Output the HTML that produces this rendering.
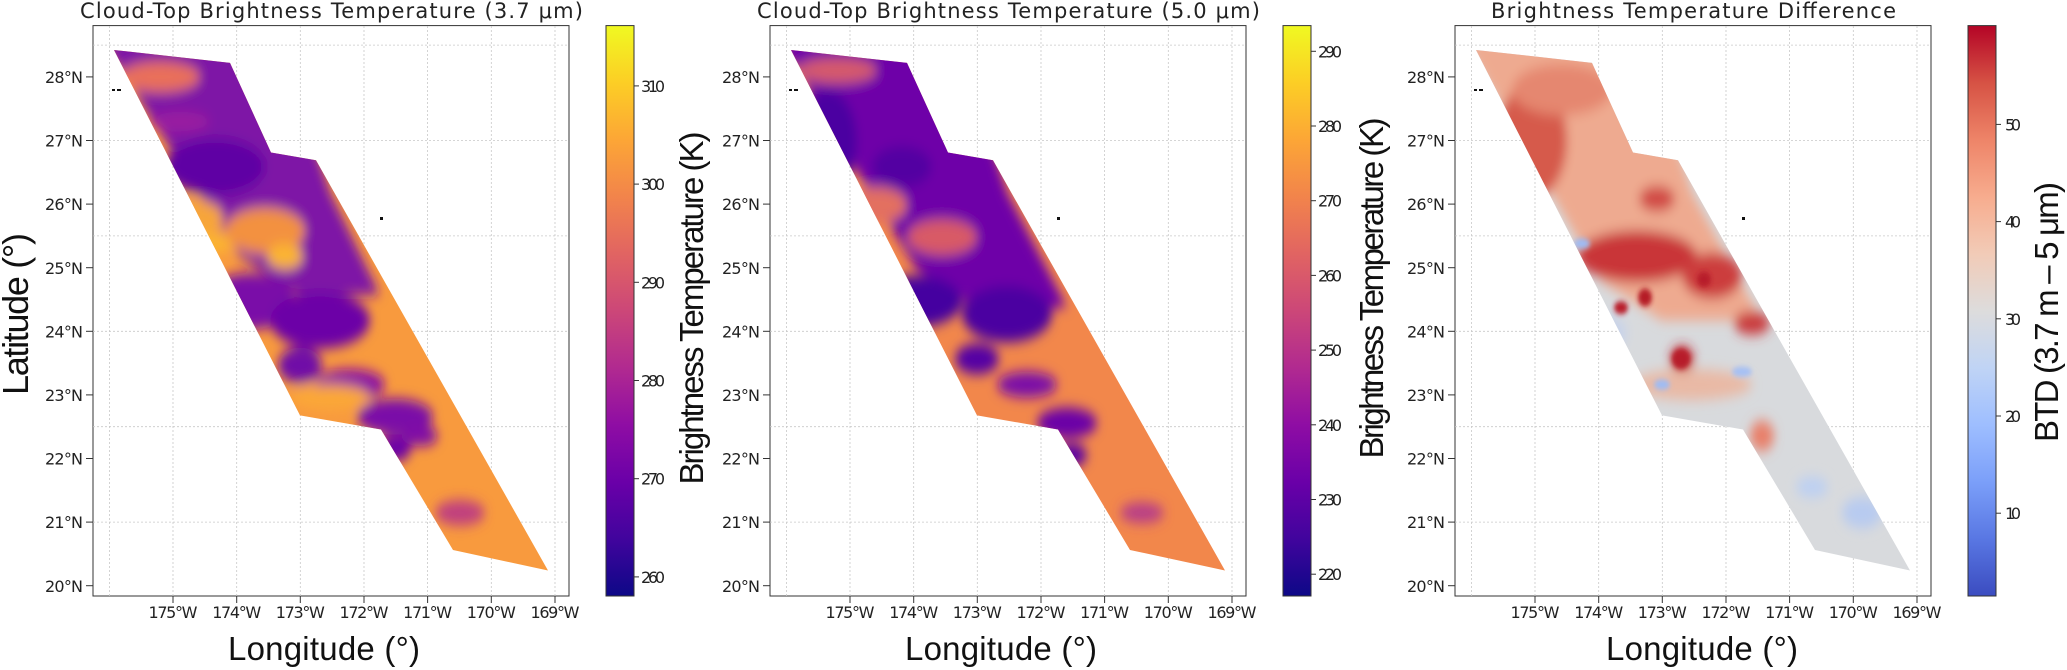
<!DOCTYPE html>
<html><head><meta charset="utf-8"><style>
html,body{margin:0;padding:0;background:#fff;}
svg{display:block;}
text{font-family:"DejaVu Sans","Liberation Sans",sans-serif;fill:#222;}
.t{font-size:16px;}
.ttl{font-size:21px;}
.ax{font-family:"Liberation Sans",sans-serif;font-size:33px;fill:#111;}
.g{stroke:#c8c8c8;stroke-width:0.8;stroke-dasharray:2,2;fill:none;}
</style></head><body>
<svg width="2067" height="670" viewBox="0 0 2067 670" xmlns="http://www.w3.org/2000/svg">
<defs>
<linearGradient id="plasma" x1="0" y1="1" x2="0" y2="0">
<stop offset="0" stop-color="#0d0887"/><stop offset=".1" stop-color="#41049d"/><stop offset=".2" stop-color="#6a00a8"/><stop offset=".3" stop-color="#8f0da4"/><stop offset=".4" stop-color="#b12a90"/><stop offset=".5" stop-color="#cc4778"/><stop offset=".6" stop-color="#e16462"/><stop offset=".7" stop-color="#f2844b"/><stop offset=".8" stop-color="#fca636"/><stop offset=".9" stop-color="#fcce25"/><stop offset="1" stop-color="#f0f921"/>
</linearGradient>
<linearGradient id="cw" x1="0" y1="1" x2="0" y2="0">
<stop offset="0" stop-color="#3b4cc0"/><stop offset=".1" stop-color="#5977e3"/><stop offset=".2" stop-color="#7b9ff9"/><stop offset=".3" stop-color="#9ebeff"/><stop offset=".4" stop-color="#c0d4f5"/><stop offset=".5" stop-color="#dddcdc"/><stop offset=".6" stop-color="#f2cbb7"/><stop offset=".7" stop-color="#f7ac8e"/><stop offset=".8" stop-color="#ee8468"/><stop offset=".9" stop-color="#d65244"/><stop offset="1" stop-color="#b40426"/>
</linearGradient>
<clipPath id="sw"><polygon points="114,39 230,49 271,119 316,125 548,445 453,429 381,335 300,324"/></clipPath>
<filter id="bl" x="-20%" y="-20%" width="140%" height="140%"><feGaussianBlur stdDeviation="5"/></filter>
<filter id="bs" x="-20%" y="-20%" width="140%" height="140%"><feGaussianBlur stdDeviation="2"/></filter>
<g id="frame">
<rect x="93" y="25.6" width="476" height="570.4" fill="none" stroke="#333" stroke-width="1"/>
<g class="g">
<line x1="109.4" y1="26" x2="109.4" y2="596"/><line x1="173" y1="26" x2="173" y2="596"/><line x1="236.7" y1="26" x2="236.7" y2="596"/><line x1="300.3" y1="26" x2="300.3" y2="596"/><line x1="364" y1="26" x2="364" y2="596"/><line x1="427.6" y1="26" x2="427.6" y2="596"/><line x1="491.3" y1="26" x2="491.3" y2="596"/><line x1="555" y1="26" x2="555" y2="596"/>
<line x1="93" y1="45.1" x2="569" y2="45.1"/><line x1="93" y1="140.5" x2="569" y2="140.5"/><line x1="93" y1="235.9" x2="569" y2="235.9"/><line x1="93" y1="331.3" x2="569" y2="331.3"/><line x1="93" y1="426.7" x2="569" y2="426.7"/><line x1="93" y1="522.1" x2="569" y2="522.1"/>
</g>
<g stroke="#333" stroke-width="1">
<line x1="86" y1="76.9" x2="93" y2="76.9"/><line x1="86" y1="140.5" x2="93" y2="140.5"/><line x1="86" y1="204.1" x2="93" y2="204.1"/><line x1="86" y1="267.7" x2="93" y2="267.7"/><line x1="86" y1="331.3" x2="93" y2="331.3"/><line x1="86" y1="394.9" x2="93" y2="394.9"/><line x1="86" y1="458.5" x2="93" y2="458.5"/><line x1="86" y1="522.1" x2="93" y2="522.1"/><line x1="86" y1="585.7" x2="93" y2="585.7"/>
<line x1="173" y1="596" x2="173" y2="603"/><line x1="236.7" y1="596" x2="236.7" y2="603"/><line x1="300.3" y1="596" x2="300.3" y2="603"/><line x1="364" y1="596" x2="364" y2="603"/><line x1="427.6" y1="596" x2="427.6" y2="603"/><line x1="491.3" y1="596" x2="491.3" y2="603"/><line x1="555" y1="596" x2="555" y2="603"/>
</g>
<g class="t" text-anchor="end">
<text x="83" y="83" textLength="38">28°N</text><text x="83" y="146.6" textLength="38">27°N</text><text x="83" y="210.2" textLength="38">26°N</text><text x="83" y="273.8" textLength="38">25°N</text><text x="83" y="337.4" textLength="38">24°N</text><text x="83" y="401" textLength="38">23°N</text><text x="83" y="464.6" textLength="38">22°N</text><text x="83" y="528.2" textLength="38">21°N</text><text x="83" y="591.8" textLength="38">20°N</text>
</g>
<g class="t" text-anchor="middle">
<text x="173" y="618" textLength="49">175°W</text><text x="236.7" y="618" textLength="49">174°W</text><text x="300.3" y="618" textLength="49">173°W</text><text x="364" y="618" textLength="49">172°W</text><text x="427.6" y="618" textLength="49">171°W</text><text x="491.3" y="618" textLength="49">170°W</text><text x="555" y="618" textLength="49">169°W</text>
</g>
<rect x="380" y="217" width="3" height="3" fill="#111"/>
<rect x="112" y="89" width="3" height="2" fill="#111"/><rect x="117" y="89" width="4" height="2" fill="#111"/>
</g>
</defs>

<!-- Panel 1 -->
<g>
<use href="#frame"/>
<g transform="scale(1,1.282)"><g clip-path="url(#sw)">
<rect x="100" y="30" width="460" height="430" fill="#f89a3e"/>
<g filter="url(#bl)">
<polygon points="100,30 280,30 330,150 380,230 300,230 240,200" fill="#7e12a6"/>
<ellipse cx="160" cy="60" rx="40" ry="12" fill="#e9705a"/>
<ellipse cx="180" cy="95" rx="30" ry="8" fill="#9a1aa0"/>
<ellipse cx="215" cy="130" rx="50" ry="22" fill="#5e03a4"/>
<ellipse cx="195" cy="170" rx="28" ry="14" fill="#f7a53a"/>
<ellipse cx="210" cy="190" rx="25" ry="8" fill="#fbb431"/>
<ellipse cx="265" cy="180" rx="40" ry="18" fill="#f3913f"/>
<ellipse cx="250" cy="235" rx="45" ry="22" fill="#7a0ea8"/>
<ellipse cx="320" cy="250" rx="50" ry="22" fill="#6c06a7"/>
<ellipse cx="350" cy="300" rx="35" ry="12" fill="#8a10a6"/>
<ellipse cx="300" cy="285" rx="22" ry="14" fill="#7008a7"/>
<ellipse cx="395" cy="325" rx="38" ry="14" fill="#7a0ea8"/>
<ellipse cx="395" cy="350" rx="16" ry="10" fill="#6a06a7"/>
<ellipse cx="420" cy="340" rx="18" ry="8" fill="#8010a6"/>
<ellipse cx="460" cy="400" rx="25" ry="10" fill="#c0407f"/>
<ellipse cx="285" cy="200" rx="18" ry="10" fill="#fbb431"/>
<ellipse cx="330" cy="310" rx="40" ry="10" fill="#fba738"/>
</g>
</g></g>
<rect x="606" y="25.6" width="28" height="570.4" fill="url(#plasma)" stroke="#333" stroke-width="1"/>
<g stroke="#333"><line x1="634" y1="85.9" x2="639" y2="85.9"/><line x1="634" y1="184.1" x2="639" y2="184.1"/><line x1="634" y1="282.3" x2="639" y2="282.3"/><line x1="634" y1="380.5" x2="639" y2="380.5"/><line x1="634" y1="478.7" x2="639" y2="478.7"/><line x1="634" y1="576.9" x2="639" y2="576.9"/></g>
<g class="t"><text x="641" y="91.9" textLength="24">310</text><text x="641" y="190.1" textLength="24">300</text><text x="641" y="288.3" textLength="24">290</text><text x="641" y="386.5" textLength="24">280</text><text x="641" y="484.7" textLength="24">270</text><text x="641" y="582.9" textLength="24">260</text></g>
<text class="ttl" x="80" y="18" textLength="503">Cloud-Top Brightness Temperature (3.7 μm)</text>
<text class="ax" x="228" y="660" textLength="192">Longitude (°)</text>
<text class="ax" transform="translate(28,314) rotate(-90)" text-anchor="middle" style="font-size:36px" textLength="162">Latitude (°)</text>
<text class="ax" transform="translate(703,308) rotate(-90)" text-anchor="middle" textLength="353">Brightness Temperature (K)</text>
</g>

<!-- Panel 2 -->
<g transform="translate(677,0)">
<use href="#frame"/>
<g transform="scale(1,1.282)"><g clip-path="url(#sw)">
<rect x="100" y="30" width="460" height="430" fill="#f2874b"/>
<g filter="url(#bl)">
<polygon points="100,30 280,30 330,150 390,240 300,240 240,210" fill="#6e06a8"/>
<ellipse cx="160" cy="55" rx="40" ry="10" fill="#d55a6c"/>
<ellipse cx="150" cy="110" rx="30" ry="40" fill="#4b03a1"/>
<ellipse cx="225" cy="130" rx="30" ry="16" fill="#5202a2"/>
<ellipse cx="200" cy="160" rx="30" ry="14" fill="#e37060"/>
<ellipse cx="265" cy="185" rx="35" ry="14" fill="#d85a66"/>
<ellipse cx="240" cy="235" rx="45" ry="20" fill="#4502a0"/>
<ellipse cx="330" cy="245" rx="45" ry="22" fill="#4c02a1"/>
<ellipse cx="300" cy="280" rx="22" ry="12" fill="#5502a4"/>
<ellipse cx="350" cy="300" rx="30" ry="10" fill="#7a0ea8"/>
<ellipse cx="390" cy="330" rx="30" ry="12" fill="#6a06a7"/>
<ellipse cx="395" cy="355" rx="15" ry="9" fill="#5a03a4"/>
<ellipse cx="465" cy="400" rx="22" ry="8" fill="#b73c88"/>
</g>
</g></g>
<rect x="606" y="25.6" width="28" height="570.4" fill="url(#plasma)" stroke="#333" stroke-width="1"/>
<g stroke="#333"><line x1="634" y1="51.3" x2="639" y2="51.3"/><line x1="634" y1="126" x2="639" y2="126"/><line x1="634" y1="200.7" x2="639" y2="200.7"/><line x1="634" y1="275.4" x2="639" y2="275.4"/><line x1="634" y1="350.1" x2="639" y2="350.1"/><line x1="634" y1="424.8" x2="639" y2="424.8"/><line x1="634" y1="499.5" x2="639" y2="499.5"/><line x1="634" y1="574.2" x2="639" y2="574.2"/></g>
<g class="t"><text x="641" y="57.3" textLength="24">290</text><text x="641" y="132" textLength="24">280</text><text x="641" y="206.7" textLength="24">270</text><text x="641" y="281.4" textLength="24">260</text><text x="641" y="356.1" textLength="24">250</text><text x="641" y="430.8" textLength="24">240</text><text x="641" y="505.5" textLength="24">230</text><text x="641" y="580.2" textLength="24">220</text></g>
<text class="ttl" x="80" y="18" textLength="503">Cloud-Top Brightness Temperature (5.0 μm)</text>
<text class="ax" x="228" y="660" textLength="192">Longitude (°)</text>
<text class="ax" transform="translate(706,288) rotate(-90)" text-anchor="middle" textLength="341">Brightness Temperature (K)</text>
</g>

<!-- Panel 3 -->
<g transform="translate(1362,0)">
<use href="#frame"/>
<g transform="scale(1,1.282)"><g clip-path="url(#sw)">
<rect x="100" y="30" width="460" height="430" fill="#d8dadd"/>
<g filter="url(#bl)">
<polygon points="100,30 280,30 330,150 400,250 300,250 240,220" fill="#eeaa90"/>
<ellipse cx="170" cy="110" rx="35" ry="45" fill="#d65a4b"/>
<ellipse cx="200" cy="70" rx="50" ry="20" fill="#e58770"/>
<ellipse cx="275" cy="200" rx="60" ry="20" fill="#c93638"/>
<ellipse cx="350" cy="215" rx="30" ry="18" fill="#cc3d3e"/>
<ellipse cx="390" cy="252" rx="18" ry="9" fill="#c9383a"/>
<ellipse cx="320" cy="280" rx="12" ry="10" fill="#c0282d"/>
<ellipse cx="400" cy="340" rx="12" ry="12" fill="#e8806a"/>
<ellipse cx="240" cy="260" rx="25" ry="15" fill="#c8d3ea"/>
<ellipse cx="330" cy="300" rx="60" ry="12" fill="#e9b9a5"/>
<ellipse cx="500" cy="400" rx="20" ry="12" fill="#b8cbf0"/>
<ellipse cx="450" cy="380" rx="16" ry="8" fill="#bdd0f2"/>
<ellipse cx="295" cy="155" rx="18" ry="10" fill="#d14a44"/>
</g>
<g filter="url(#bs)">
<ellipse cx="283" cy="232" rx="7" ry="7" fill="#b51f28"/>
<ellipse cx="259" cy="240" rx="7" ry="5" fill="#b91f2a"/>
<ellipse cx="319" cy="280" rx="9" ry="8" fill="#b71f29"/>
<ellipse cx="342" cy="218" rx="7" ry="6" fill="#b81f29"/>
<ellipse cx="220" cy="190" rx="8" ry="4" fill="#9ebcf5"/>
<ellipse cx="300" cy="300" rx="8" ry="4" fill="#9ebcf5"/>
<ellipse cx="380" cy="290" rx="10" ry="4" fill="#a4c0f5"/>
</g>
</g></g>
<rect x="606" y="25.6" width="28" height="570.4" fill="url(#cw)" stroke="#333" stroke-width="1"/>
<g stroke="#333"><line x1="634" y1="124.4" x2="639" y2="124.4"/><line x1="634" y1="221.6" x2="639" y2="221.6"/><line x1="634" y1="318.8" x2="639" y2="318.8"/><line x1="634" y1="416" x2="639" y2="416"/><line x1="634" y1="513.2" x2="639" y2="513.2"/></g>
<g class="t"><text x="643" y="130.4" textLength="16">50</text><text x="643" y="227.6" textLength="16">40</text><text x="643" y="324.8" textLength="16">30</text><text x="643" y="422" textLength="16">20</text><text x="643" y="519.2" textLength="16">10</text></g>
<text class="ttl" x="129" y="18" textLength="405">Brightness Temperature Difference</text>
<text class="ax" x="244" y="660" textLength="192">Longitude (°)</text>
<text class="ax" transform="translate(696,312) rotate(-90)" text-anchor="middle" textLength="260">BTD (3.7 m – 5 μm)</text>
</g>
</svg>
</body></html>
